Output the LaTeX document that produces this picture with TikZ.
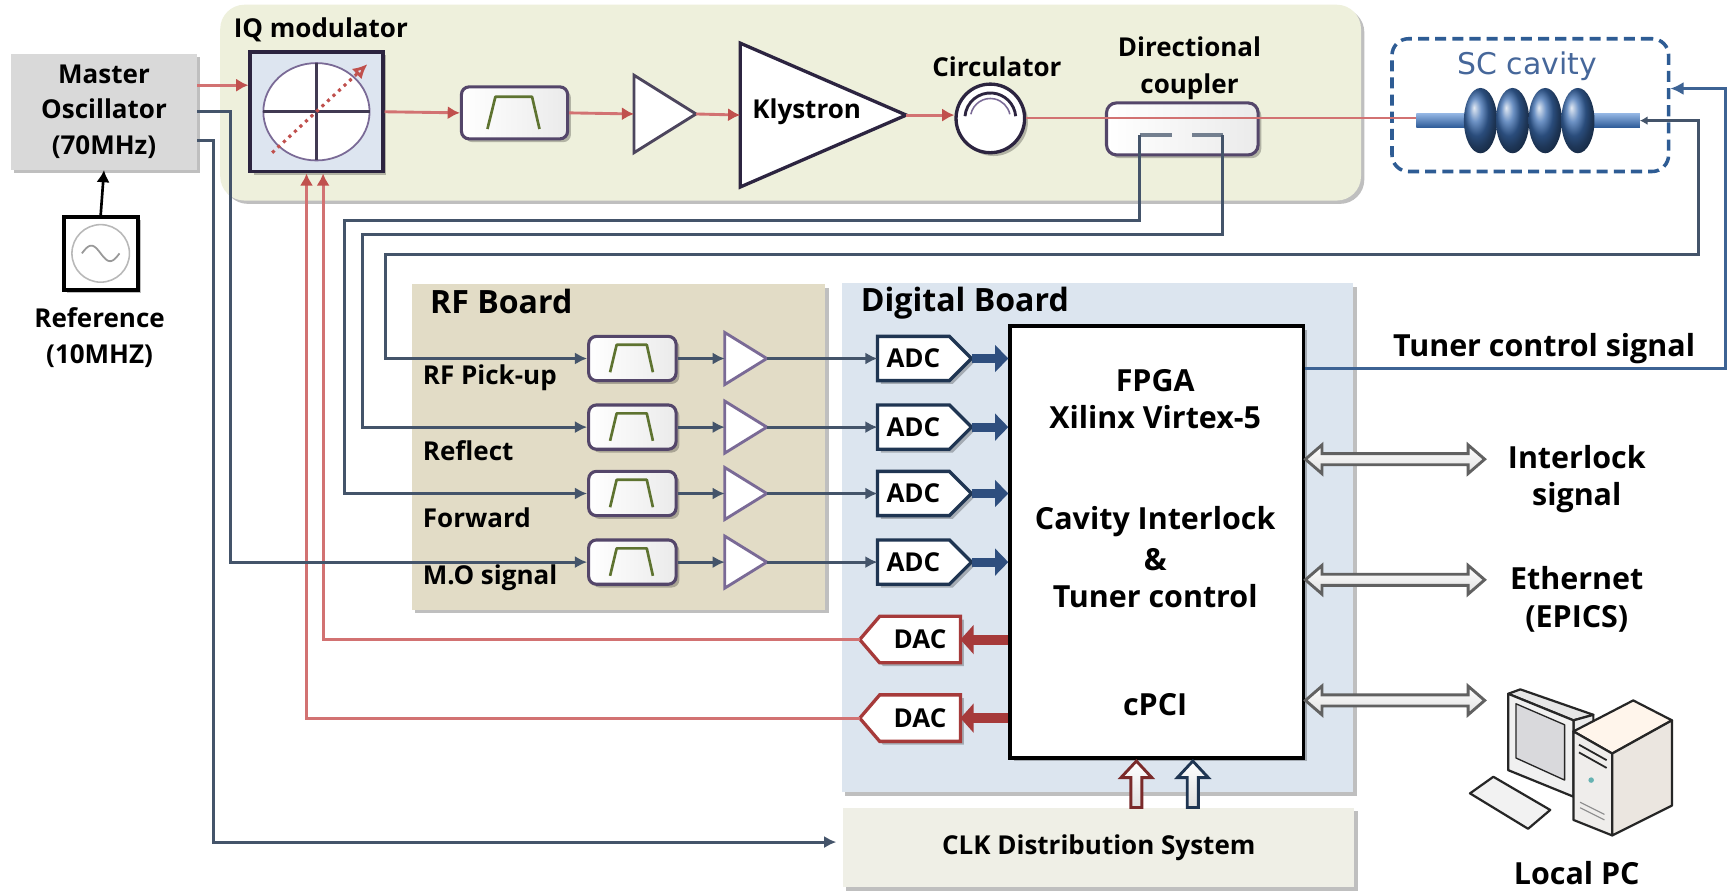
\documentclass[tikz,border=0pt]{standalone}
\usepackage{fontspec}
\setmainfont{Open Sans}
\newfontfamily\cavfont{DejaVu Sans}
\usetikzlibrary{arrows.meta,shadows,calc}
\pgfdeclarelayer{bg}
\pgfdeclarelayer{mid}
\pgfsetlayers{bg,mid,main}

\definecolor{panelgreen}{HTML}{EEF0DC}
\definecolor{rfboard}{HTML}{E2DCC6}
\definecolor{digboard}{HTML}{DCE5EF}
\definecolor{clkfill}{HTML}{EFEFE6}
\definecolor{mofill}{HTML}{D9D9D9}
\definecolor{sigline}{HTML}{44546A}
\definecolor{rfred}{HTML}{D27272}
\definecolor{tipred}{HTML}{C0504D}
\definecolor{boxedge}{HTML}{54466A}
\definecolor{iqedge}{HTML}{2C2440}
\definecolor{iqfill}{HTML}{DDE5F0}
\definecolor{filtgreen}{HTML}{5E7330}
\definecolor{ampedge}{HTML}{7A6A96}
\definecolor{cavblue}{HTML}{2E5C94}
\definecolor{sctext}{HTML}{46679A}
\definecolor{cellblue}{HTML}{3C6DB0}
\definecolor{pipelight}{HTML}{8FB2E0}
\definecolor{pipedark}{HTML}{2F5C99}
\definecolor{tunerblue}{HTML}{3D6394}
\definecolor{adcnavy}{HTML}{1F3552}
\definecolor{busnavy}{HTML}{2E4E7E}
\definecolor{dacred}{HTML}{A63A3A}
\definecolor{clkred}{HTML}{7A2A2A}

\newcommand\lblfont{\fontsize{23.5}{32}\selectfont\bfseries}
\newcommand\bigfont{\fontsize{27.5}{34}\selectfont\bfseries}
\newcommand\ttlfont{\fontsize{29}{34}\selectfont\bfseries}

% band-pass symbol inside a filter box: node, box width, box height
\newcommand\bandpass[3]{%
  \draw[filtgreen, line width=2.4pt, line join=round]
    ($(#1.center)+({-0.255*#2},{0.31*#3})$) -- ($(#1.center)+({-0.18*#2},{-0.31*#3})$)
    -- ($(#1.center)+({0.165*#2},{-0.31*#3})$) -- ($(#1.center)+({0.235*#2},{0.31*#3})$);}

\begin{document}
\begin{tikzpicture}[x=1pt,y=-1pt,
  lbl/.style={font=\lblfont, align=center, inner sep=0pt},
  biglbl/.style={font=\bigfont, align=center, inner sep=0pt},
  ttl/.style={font=\ttlfont, inner sep=0pt},
  softshadow/.style={drop shadow={shadow xshift=3pt, shadow yshift=-3pt, fill=black, opacity=0.25}},
  panel/.style={inner sep=0pt, softshadow},
  slot/.style={inner sep=0pt, outer sep=0pt},
  bpf/.style={draw=boxedge, line width=2.8pt, rounded corners=7pt, left color=white, right color=black!8, inner sep=0pt, softshadow},
  ampsym/.style={draw=ampedge, line width=2.6pt, fill=white, line join=miter},
  sigwire/.style={draw=sigline, line width=2.8pt, -{Latex[length=11pt,width=11pt]}},
  rfwire/.style={draw=rfred, line width=2.6pt, -{Latex[length=11pt,width=12pt,color=tipred]}},
  tunerwire/.style={draw=tunerblue, line width=2.8pt, -{Latex[length=12pt,width=12pt]}},
  couplerdash/.style={draw=sigline!75, line width=3.2pt},
  adcedge/.style={draw=adcnavy, line width=3pt, fill=white, line join=miter, softshadow},
  dacedge/.style={draw=dacred, line width=3pt, fill=white, line join=miter, softshadow},
  adcbus/.style={draw=busnavy, line width=8pt, -{Triangle[length=12pt,width=24pt]}},
  dacbus/.style={draw=dacred, line width=9pt, -{Triangle[length=12pt,width=26pt]}},
  hollow/.style={line width=2.6pt, line join=miter, top color=white, bottom color=black!12}]

\useasboundingbox (0,0) rectangle (1568,809);

% ---------- panels ----------
\begin{pgfonlayer}{bg}
  \fill[white] (0,0) rectangle (1568,809);
  \node[panel, fill=panelgreen, rounded corners=22pt, minimum width=1031pt, minimum height=177pt] (rfchain) at (714.5,92.75) {};
  \node[panel, fill=rfboard, minimum width=374pt, minimum height=294pt] (rfb) at (559,404) {};
  \node[panel, fill=digboard, minimum width=462pt, minimum height=460pt] (digb) at (992,486) {};
\end{pgfonlayer}
\node[panel, fill=clkfill, minimum width=462pt, minimum height=72pt, font=\lblfont] (clk) at (993,766) {CLK Distribution System};

% ---------- master oscillator and reference ----------
\node[panel, fill=mofill, minimum width=168pt, minimum height=105pt, lbl] (mo) at (94,101) {Master\\Oscillator\\(70MHz)};
\node[draw=black, line width=3.5pt, fill=white, minimum width=67pt, minimum height=66pt, softshadow] (refosc) at (91,229) {};
\draw[black!28, line width=1.4pt] (refosc.center) circle [radius=26pt];
\begin{scope}[shift={(refosc.center)}]
  \draw[black!40, line width=1.6pt, domain=0:360, samples=50, smooth] plot ({17*(\x-180)/180},{-7*sin(\x)});
\end{scope}
\node[lbl] (reflbl) at (90,305) {Reference\\(10MHZ)};
\draw[black, line width=2.4pt, -{Latex[length=11pt,width=12pt]}] (refosc.north) -- (mo.south);

% ---------- IQ modulator ----------
\node[draw=iqedge, line width=3.5pt, fill=iqfill, minimum width=119.5pt, minimum height=108pt, softshadow] (iq) at (286,101) {};
\filldraw[draw=ampedge, line width=1.6pt, fill=white] (iq.center) ellipse [x radius=48pt, y radius=44pt];
\draw[iqedge!90, line width=2.6pt] ($(iq.center)+(-48,0)$) -- ($(iq.center)+(48,0)$)
  ($(iq.center)+(0,-44)$) -- ($(iq.center)+(0,44)$);
\draw[tipred, line width=2.8pt, dash pattern=on 2.8pt off 4pt, -{Latex[open,length=13pt,width=13pt]}]
  ($(iq.center)+(-40,37)$) -- ($(iq.center)+(46,-43)$);
\node[lbl] (iqlbl) at (290,27) {IQ modulator};

% ---------- RF chain ----------
\node[bpf, minimum width=96pt, minimum height=47pt] (f0) at (465,102) {};
\bandpass{f0}{96}{47}
\node[slot, minimum width=56pt, minimum height=70pt] (a0) at (601,103) {};
\draw[ampsym, draw=iqedge!85] (a0.north west) -- (a0.east) -- (a0.south west) -- cycle;
\node[slot, minimum width=150pt, minimum height=130pt] (kly) at (744,104) {};
\draw[ampsym, draw=iqedge, line width=3pt] (kly.north west) -- (kly.east) -- (kly.south west) -- cycle;
\node[lbl] (klylbl) at (729,101) {Klystron};
\node[circle, draw=iqedge, line width=3pt, fill=white, minimum size=62pt, inner sep=0pt, softshadow] (circ) at (895,107) {};
\draw[iqedge, line width=2.6pt] ($(circ.center)+(175:23pt)$) arc[start angle=175, end angle=5, radius=23pt];
\draw[ampedge, line width=1.4pt] ($(circ.center)+(168:18pt)$) arc[start angle=168, end angle=12, radius=18pt];
\node[lbl] (circlbl) at (901,60) {Circulator};
\node[bpf, minimum width=137pt, minimum height=47pt, rounded corners=9pt] (cpl) at (1068.5,116.5) {};
\node[lbl, font=\fontsize{23.5}{33}\selectfont\bfseries] (cpllbl) at (1075,61.5) {Directional\\coupler};
\coordinate (cplL) at ($(cpl.center)+(-38.5,5.5)$);
\coordinate (cplR) at ($(cpl.center)+(36.5,5.5)$);

% ---------- SC cavity ----------
\node[draw=cavblue, line width=3.2pt, dash pattern=on 10pt off 5.5pt, rounded corners=15pt, minimum width=250pt, minimum height=120pt, inner sep=0pt] (scbox) at (1383,95) {};
\node[font=\cavfont\fontsize{27}{30}\selectfont, text=sctext, inner sep=0pt] (sclbl) at (1380,60) {SC cavity};
\node[slot, minimum width=202pt, minimum height=12pt, top color=pipelight, bottom color=pipedark] (pipe) at (1381,109) {};
\foreach \cx in {1338,1367,1396.5,1426}
  \shade[ball color=cellblue] (\cx,109) ellipse [x radius=15pt, y radius=29.5pt];

% ---------- chain connectors ----------
\draw[rfwire] ([yshift=24pt]mo.east) -- ([yshift=24pt]iq.west);
\draw[rfwire] (iq.east) -- (f0.west);
\draw[rfwire] (f0.east) -- (a0.west);
\draw[rfwire] (a0.east) -- (kly.west);
\draw[rfwire] (kly.east) -- (kly.east -| circ.west);
\draw[rfred, line width=1.8pt] (circ.east) -- (circ.east -| pipe.west);
\draw[couplerdash] (cplL) -- ++(29,0);
\draw[couplerdash] (cplR) -- ++(-28,0);

% ---------- FPGA ----------
\node[draw=black, line width=3.5pt, fill=white, minimum width=265pt, minimum height=390pt, softshadow] (fpga) at (1045.5,490) {};
\node[biglbl] (t1) at (1044,344) {FPGA};
\node[biglbl] (t2) at (1044,377) {Xilinx Virtex-5};
\node[biglbl] (t3) at (1044,471) {Cavity Interlock};
\node[biglbl] (t4) at (1044,506) {\&};
\node[biglbl] (t5) at (1044,539) {Tuner control};
\node[biglbl] (t6) at (1044,637) {cPCI};

\node[ttl] (rftitle) at (453,272) {RF Board};
\node[ttl] (digtitle) at (872,274) {Digital Board};

% ---------- receive rows ----------
\foreach \i/\y in {1/324,2/386,3/446,4/508}{
  \node[bpf, minimum width=79pt, minimum height=40pt] (fr\i) at (571.5,\y) {};
  \bandpass{fr\i}{79}{40}
  \node[slot, minimum width=38pt, minimum height=47pt] (ra\i) at (674,\y) {};
  \draw[ampsym] (ra\i.north west) -- (ra\i.east) -- (ra\i.south west) -- cycle;
  \node[slot, minimum width=65pt, minimum height=40pt, font=\lblfont] (adc\i) at (825.5,\y) {ADC};
  \begin{pgfonlayer}{mid}
    \draw[adcedge] (adc\i.north west) -- (adc\i.north east) -- ($(adc\i.east)+(20,0)$)
      -- (adc\i.south east) -- (adc\i.south west) -- cycle;
  \end{pgfonlayer}
  \draw[sigwire] (fr\i.east) -- (ra\i.west);
  \draw[sigwire] (ra\i.east) -- (adc\i.west);
  \draw[adcbus] ($(adc\i.east)+(20,0)$) -- (adc\i.east -| fpga.west);
}

\node[lbl, anchor=west] (l1) at (382,341) {RF Pick-up};
\node[lbl, anchor=west] (l2) at (382,407) {Reflect};
\node[lbl, anchor=west] (l3) at (382,468) {Forward};
\node[lbl, anchor=west] (l4) at (382,522) {M.O signal};

% ---------- drive rows ----------
\foreach \i/\y in {1/578,2/649}{
  \node[slot, minimum width=73pt, minimum height=42pt, font=\lblfont] (dac\i) at (831.5,\y) {DAC};
  \begin{pgfonlayer}{mid}
    \draw[dacedge] (dac\i.north east) -- (dac\i.north west) -- ($(dac\i.west)+(-18,0)$)
      -- (dac\i.south west) -- (dac\i.south east) -- cycle;
  \end{pgfonlayer}
  \draw[dacbus] (dac\i.east -| fpga.west) -- (dac\i.east);
}
\coordinate (iqin1) at ($(iq.south)+(6,0)$);
\coordinate (iqin2) at ($(iq.south)+(-9,0)$);
\draw[rfwire] ($(dac1.west)+(-18,0)$) -| (iqin1);
\draw[rfwire] ($(dac2.west)+(-18,0)$) -| (iqin2);

% ---------- pick-up and reference wiring ----------
\draw[sigwire] (cplL) |- (311,199) |- (fr3.west);
\draw[sigwire] (cplR) |- (328,212) |- (fr2.west);
\draw[sigwire, {Latex[length=7pt,width=8pt]}-{Latex[length=11pt,width=11pt]}] (pipe.east) -| (1535,230) -| (348,300) |- (fr1.west);
\draw[sigwire] (mo.east) -| (208,300) |- (fr4.west);
\draw[sigwire, shorten >=6pt] ([yshift=-26pt]mo.east) -| (193,700) |- ([yshift=5pt]clk.west);

% ---------- tuner and external links ----------
\draw[tunerwire] ([yshift=157pt]fpga.east) -| (1559,200) |- ([yshift=15pt]scbox.east);
\node[biglbl] (tunerlbl) at (1395.5,315) {Tuner control signal};

% two-headed hollow bus arrows leaving the FPGA
\foreach \dy in {75,-34,-143}{
  \begin{scope}[shift={([yshift=\dy pt]fpga.east)}]
    \filldraw[hollow, draw=black!62] (0,0) -- (15,-13) -- (15,-5) -- (147,-5) -- (147,-13) -- (162,0)
      -- (147,13) -- (147,5) -- (15,5) -- (15,13) -- cycle;
  \end{scope}
}
\node[biglbl] (ilklbl) at (1425,433) {Interlock\\signal};
\node[biglbl] (ethlbl) at (1425,541.5) {Ethernet\\(EPICS)};
\node[biglbl] (pclbl) at (1425,789) {Local PC};

% hollow clock arrows into the FPGA
\foreach \dx/\col in {34/clkred,85/adcnavy}{
  \begin{scope}[shift={([xshift=\dx pt, yshift=42pt]clk.north)}]
    \filldraw[hollow, draw=\col] (0,0) -- (14,15) -- (5,15) -- (5,42) -- (-5,42) -- (-5,15) -- (-14,15) -- cycle;
  \end{scope}
}

% ---------- local PC icon ----------
\begin{scope}[line width=2pt, line join=round, draw=black!85]
  \filldraw[fill=black!10] (1363,627) -- (1374,623) -- (1440,646) -- (1422,651) -- cycle;
  \filldraw[fill=black!8] (1422,651) -- (1440,646) -- (1440,705) -- (1422,720) -- cycle;
  \filldraw[fill=black!6] (1363,627) -- (1422,651) -- (1422,720) -- (1363,696) -- cycle;
  \filldraw[fill=blue!8!black!15, line width=1.2pt] (1370,636) -- (1414,655) -- (1414,705) -- (1370,685) -- cycle;
  \filldraw[fill=black!5] (1328.5,717) -- (1349.6,702) -- (1401,732) -- (1381,749) -- cycle;
  \filldraw[fill=orange!8!white] (1422,661) -- (1476,633) -- (1511,651) -- (1457,681) -- cycle;
  \filldraw[fill=orange!20!black!8] (1422,661) -- (1457,681) -- (1457,755) -- (1422,741) -- cycle;
  \filldraw[fill=orange!35!black!12] (1457,681) -- (1511,651) -- (1511,728) -- (1457,755) -- cycle;
  \draw[line width=1.6pt] (1427,673) -- (1452,687) (1427,680) -- (1452,694);
  \fill[teal!60] (1438,705) circle [radius=2.5pt];
  \draw[black!45, line width=1pt] (1428,725) -- (1450,736) (1428,730) -- (1450,741);
\end{scope}
\end{tikzpicture}
\end{document}
